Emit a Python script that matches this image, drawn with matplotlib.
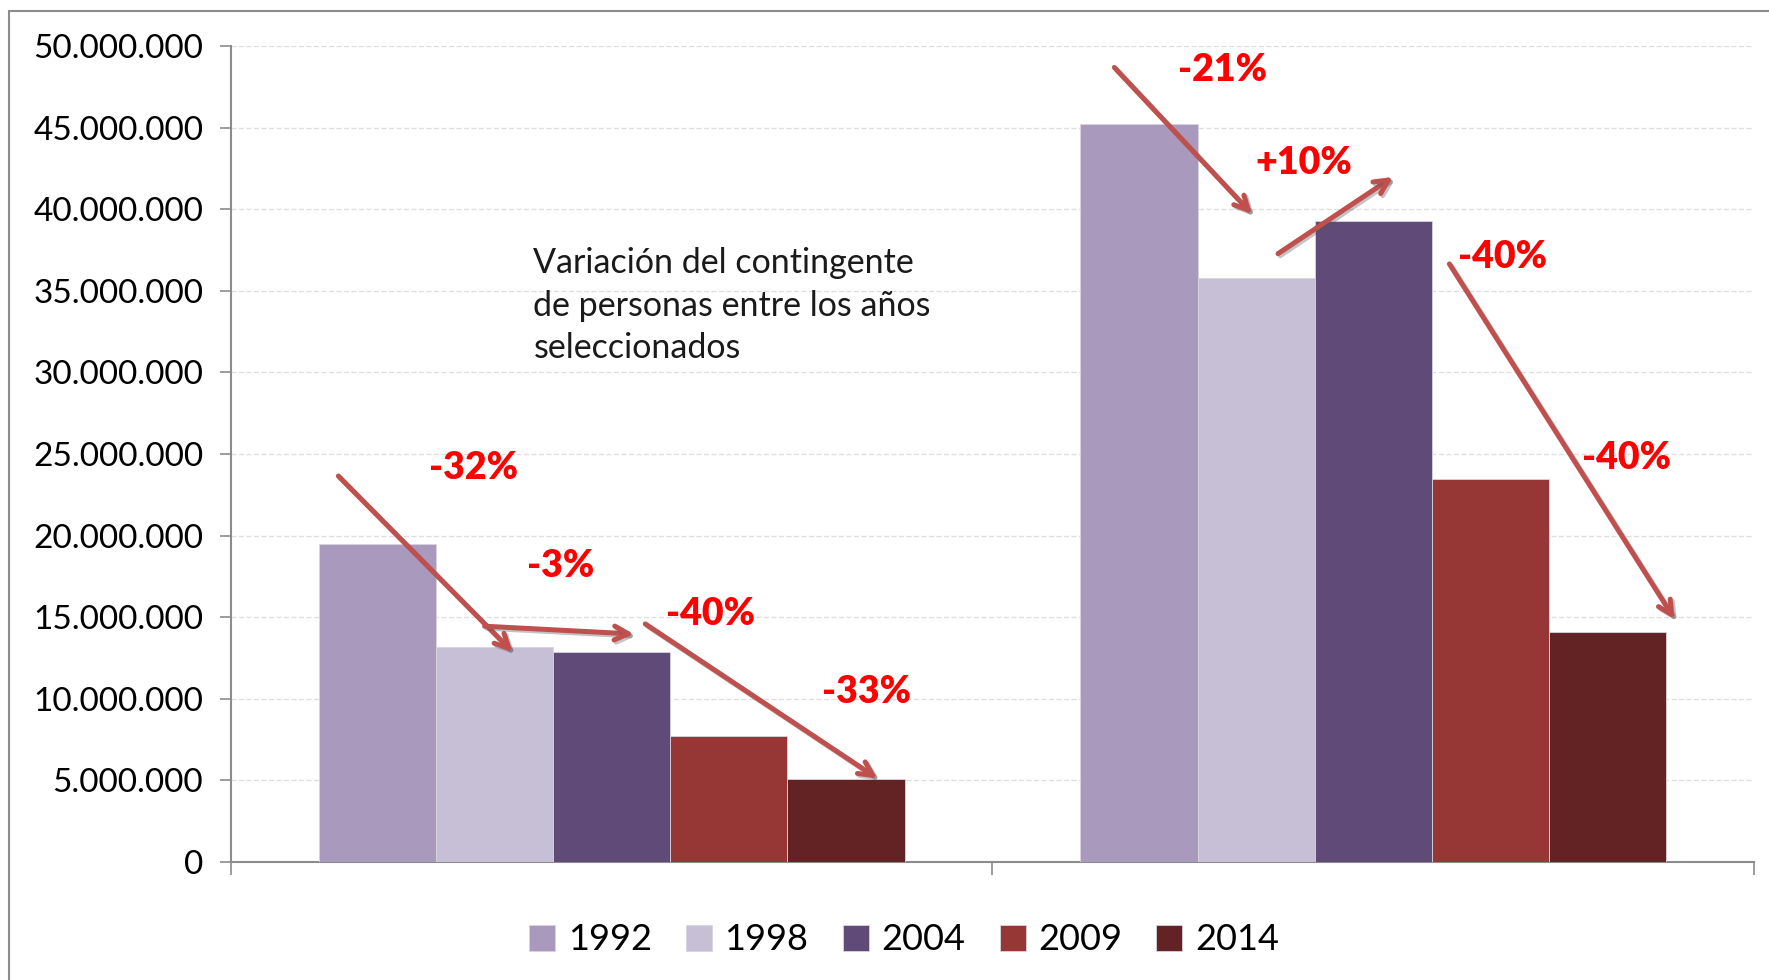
import numpy as np
import matplotlib.pyplot as plt
from matplotlib.patches import Rectangle
import matplotlib.patheffects as pe

plt.rcParams['font.family'] = ['Lato', 'DejaVu Sans']

# data (millones de personas)
groups = ['A', 'B']
years = ['1992', '1998', '2004', '2009', '2014']
v1992 = [19.5, 45.2]
v1998 = [13.2, 35.8]
v2004 = [12.85, 39.3]
v2009 = [7.7, 23.5]
v2014 = [5.1, 14.1]
series = [v1992, v1998, v2004, v2009, v2014]
colors = ['#A99ABD', '#C7BFD5', '#5F4A78', '#963736', '#632325']

# variation labels, group 1 then group 2
var_labels = ['-32%', '-3%', '-40%', '-33%', '-21%', '+10%', '-40%', '-40%']

fig = plt.figure(figsize=(17.69, 9.80), dpi=100)
ax = fig.add_axes([0.1306, 0.1204, 0.8609, 0.8326])

# outer chart frame
fig.patches.append(Rectangle((9 / 1769, -0.1), 1.2, 0.1 + 1 - 11 / 980,
                             transform=fig.transFigure, fill=False,
                             edgecolor='#8c8c8c', lw=1.5))

x = np.arange(len(groups))
w = 0.1538
for i, (vals, c) in enumerate(zip(series, colors)):
    ax.bar(x + (i - 2) * w, np.array(vals) * 1e6, width=w, color=c,
           edgecolor='#d9d4e0', linewidth=0.6, label=years[i], zorder=3)

ax.set_xlim(-0.5, 1.5)
ax.set_ylim(0, 50e6)
ax.set_yticks(np.arange(0, 50e6 + 1, 5e6))
ax.set_yticklabels([f'{int(v):,}'.replace(',', '.') for v in np.arange(0, 50e6 + 1, 5e6)])
ax.set_xticks([])
ax.set_xticks([-0.5, 0.5, 1.5], minor=True)
ax.tick_params(axis='x', which='minor', length=9, color='#8c8c8c', width=1.2)
ax.tick_params(axis='y', length=8, color='#8c8c8c', width=1.2, labelsize=24, pad=12)
ax.grid(axis='y', color='#dddddd', linestyle=(0, (4, 2)), lw=0.9, zorder=0)
for s in ['top', 'right']:
    ax.spines[s].set_visible(False)
for s in ['left', 'bottom']:
    ax.spines[s].set_color('#8c8c8c')
    ax.spines[s].set_linewidth(1.5)

# arrows
arrows = [((-0.359, 23.65), (-0.130, 12.86)),
          ((-0.167, 14.45), (0.029, 13.97)),
          ((0.044, 14.59), (0.349, 5.12)),
          ((0.660, 48.69), (0.841, 39.7)),
          ((0.875, 37.28), (1.026, 41.98)),
          ((1.100, 36.65), (1.396, 14.87))]
shadow = [pe.SimpleLineShadow(offset=(1.5, -1.5), shadow_color='#555555', alpha=0.35), pe.Normal()]
for (x0, y0), (x1, y1) in arrows:
    ax.annotate('', xy=(x1, y1 * 1e6), xytext=(x0, y0 * 1e6),
                arrowprops=dict(arrowstyle='->,head_length=1.0,head_width=0.5',
                                color='#C0504D', lw=3.6, shrinkA=0, shrinkB=0,
                                path_effects=shadow),
                zorder=5)

label_pos = [(-0.181, 24.14), (-0.067, 18.12), (0.130, 15.21), (0.334, 10.44),
             (0.802, 48.55), (0.909, 42.81), (1.170, 37.07), (1.333, 24.76)]
for lab, (lx, ly) in zip(var_labels, label_pos):
    ax.text(lx, ly * 1e6, lab, color='#FF0000', fontsize=27, fontweight='heavy',
            ha='center', va='center', zorder=6)

ax.text(-0.103, 34.1e6, 'Variación del contingente\nde personas entre los años\nseleccionados',
        fontsize=24.5, ha='left', va='center', linespacing=1.42, color='#1a1a1a', zorder=6)

fig.legend(loc='center', bbox_to_anchor=(0.511, 0.041), ncol=5, frameon=False,
           fontsize=26, handlelength=0.72, handleheight=0.72, handletextpad=0.35,
           columnspacing=0.95)

fig.savefig('out.png', dpi=100)
